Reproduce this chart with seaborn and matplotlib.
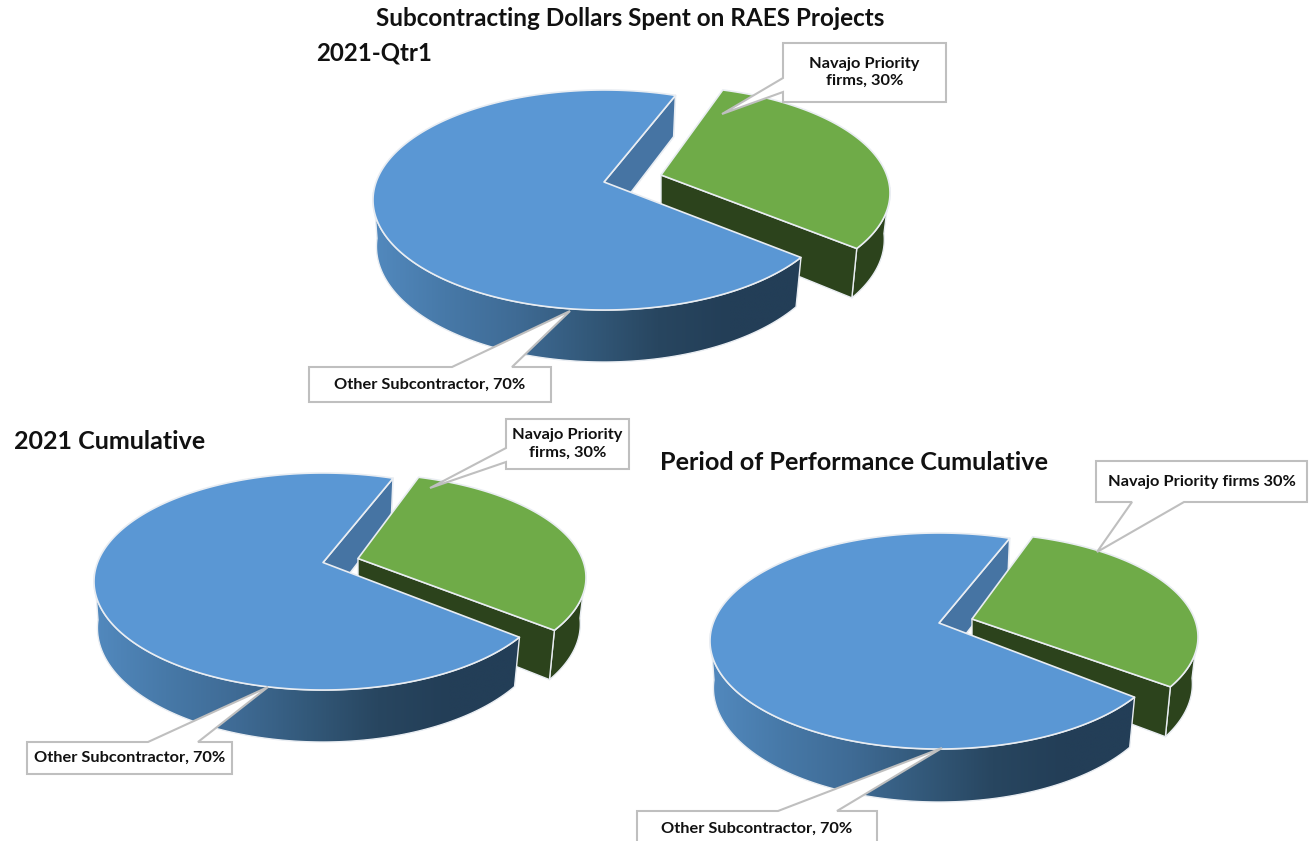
import numpy as np
import matplotlib
matplotlib.use("Agg")
import matplotlib.pyplot as plt
from matplotlib.patches import Polygon
import seaborn as sns

# ---------- data ----------
categories = ["Other Subcontractor", "Navajo Priority firms"]
shares_qtr1 = [70, 30]
shares_2021 = [70, 30]
shares_pop = [70, 30]
chart_title = "Subcontracting Dollars Spent on RAES Projects"
panel_titles = ["2021-Qtr1", "2021 Cumulative", "Period of Performance Cumulative"]
other_labels = ["Other Subcontractor, 70%", "Other Subcontractor, 70%", "Other Subcontractor, 70%"]
navajo_labels = ["Navajo Priority\nfirms, 30%", "Navajo Priority\nfirms, 30%", "Navajo Priority firms 30%"]

# ---------- style ----------
sns.set_theme(style="white")
plt.rcParams["font.family"] = ["Lato", "DejaVu Sans"]
BLUE, GREEN, NOTCH, DARKGREEN, EDGE, BOXEDGE = "#5a97d4", "#6fab48", "#4674a3", "#2c431c", "#e9edf2", "#bfbfbf"
side_cmap = sns.blend_palette(["#5289be", "#4779a8", "#3f6b95", "#33597a", "#284660", "#233e57", "#233e57"], as_cmap=True)

# ---------- layout (pixels) ----------
layout = [
    dict(blue=(604, 200, 231, 110), green=(661, 193, 229, 107), persp=18, dback=41, dfront=52, gwarp=1.025,
         title=(316, 53), tsize=17.3,
         other=dict(box=(309, 367, 551, 402), tip=(570, 311), side="top", base=(452, 512)),
         navajo=dict(box=(783, 43, 946, 102), tip=(722, 114), side="left", base=(78, 92))),
    dict(blue=(323, 581.5, 229, 108.5), green=(358, 577.5, 228, 104), persp=19, dback=41, dfront=52, gwarp=1.025,
         title=(14, 441), tsize=18,
         other=dict(box=(27, 742, 232, 774), tip=(268, 687), side="top", base=(148, 198)),
         navajo=dict(box=(506, 419, 629, 469), tip=(430, 488), side="left", base=(448, 462))),
    dict(blue=(939, 641, 229, 108), green=(972, 637, 226, 104), persp=18, dback=41, dfront=53, gwarp=1.005,
         title=(660, 462), tsize=18.2,
         other=dict(box=(637, 811, 877, 846), tip=(942, 748), side="top", base=(778, 837)),
         navajo=dict(box=(1096, 461, 1307, 502), tip=(1097, 552), side="bottom", base=(1132, 1184))),
]
START = 68.8
GREEN_START = 71.5
SHRINK_LEFT, SHRINK_RIGHT = 0.985, 0.975

fig = plt.figure(figsize=(13.09, 8.41), dpi=100, facecolor="white")
ax = fig.add_axes([0, 0, 1, 1])


def on_disc(geom, persp, theta):
    cx, cy, rx, ry = geom
    a = persp / ry
    t = np.radians(theta)
    den = 1 + a * np.sin(t)
    return np.column_stack([cx + rx * np.sqrt(1 - a * a) * np.cos(t) / den,
                            cy - ry * (np.sin(t) + a) / den])


def drop(points, geom, dback, dfront):
    cx, cy, rx, ry = geom
    frac = (points[:, 1] - (cy - ry)) / (2 * ry)
    shrink = np.where(points[:, 0] < cx, SHRINK_LEFT, SHRINK_RIGHT)
    return np.column_stack([cx + (points[:, 0] - cx) * shrink,
                            points[:, 1] + dback + (dfront - dback) * frac])


def poly(points, fc, lw=1.2, ec=EDGE, z=2):
    p = Polygon(points, closed=True, facecolor=fc, edgecolor=ec, linewidth=lw, zorder=z, joinstyle="round")
    ax.add_patch(p)
    return p


def callout(spec, text, size):
    x0, y0, x1, y1 = spec["box"]
    tip, (b0, b1) = spec["tip"], spec["base"]
    if spec["side"] == "left":
        pts = [(x0, y0), (x0, b0), tip, (x0, b1), (x0, y1), (x1, y1), (x1, y0)]
    elif spec["side"] == "top":
        pts = [(x0, y0), (b0, y0), tip, (b1, y0), (x1, y0), (x1, y1), (x0, y1)]
    else:
        pts = [(x0, y0), (x0, y1), (b0, y1), tip, (b1, y1), (x1, y1), (x1, y0)]
    ax.add_patch(Polygon(pts, closed=True, facecolor="white", edgecolor=BOXEDGE, linewidth=1.5,
                         zorder=5, joinstyle="miter"))
    ax.text((x0 + x1) / 2, (y0 + y1) / 2, text, ha="center", va="center", fontsize=size,
            fontweight="bold", color="#111111", zorder=6, linespacing=1.3)


def pie3d(shares, spec, other_text, navajo_text, title):
    geom_b, geom_g, persp = spec["blue"], spec["green"], spec["persp"]
    d0, d1 = spec["dback"], spec["dfront"]
    span_b = 360 * shares[0] / sum(shares)
    span_g = 360 * shares[1] / sum(shares) * spec["gwarp"]

    th_b = np.linspace(START, START + span_b, 300)
    th_g = np.linspace(GREEN_START, GREEN_START - span_g, 150)
    arc_b = on_disc(geom_b, persp, th_b)
    arc_g = on_disc(geom_g, persp, th_g)
    apex_b = np.array([[geom_b[0], geom_b[1] - persp]])
    apex_g = np.array([[geom_g[0], geom_g[1] - persp]])

    # inner face seen through the gap
    poly(np.vstack([apex_b, arc_b[:1], drop(arc_b[:1], geom_b, d0, d1), drop(apex_b, geom_b, d0, d1)]),
         NOTCH, z=2)
    # exploded slice: outer rim, cut face, top
    lim_g = -np.degrees(np.arcsin(persp / geom_g[3]))
    th_rim = np.linspace(GREEN_START - span_g, lim_g + 3, 60)
    rim = on_disc(geom_g, persp, th_rim)
    poly(np.vstack([rim, drop(rim, geom_g, d0, d1)[::-1]]), DARKGREEN, lw=1.0, z=3)
    end_g = arc_g[-1:]
    poly(np.vstack([apex_g, end_g, drop(end_g, geom_g, d0, d1), drop(apex_g, geom_g, d0, d1)]),
         DARKGREEN, lw=1.0, z=3)
    poly(np.vstack([apex_g, arc_g]), GREEN, z=3)

    # large slice: gradient outer wall, top
    lim_b = 180 + np.degrees(np.arcsin(persp / geom_b[3])) - 4
    th_wall = np.linspace(lim_b, START + span_b, 200)
    wall = on_disc(geom_b, persp, th_wall)
    wall_poly = np.vstack([wall, drop(wall, geom_b, d0, d1)[::-1]])
    clip = poly(wall_poly, "none", lw=1.0, ec=EDGE, z=4.1)
    grad = np.linspace(0, 1, 256)[None, :]
    xl, xr = wall_poly[:, 0].min(), wall_poly[:, 0].max()
    im = ax.imshow(grad, cmap=side_cmap, extent=(xl, xr, wall_poly[:, 1].max(), wall_poly[:, 1].min()),
                   aspect="auto", zorder=4, interpolation="bilinear")
    im.set_clip_path(clip)
    poly(np.vstack([apex_b, arc_b]), BLUE, z=4.2)

    callout(spec["other"], other_text, 11.8)
    callout(spec["navajo"], navajo_text, 11.8)
    ax.text(spec["title"][0], spec["title"][1], title, ha="left", va="center", fontsize=spec["tsize"],
            fontweight="bold", color="#111111", zorder=6)


for shares, spec, o, n, t in zip([shares_qtr1, shares_2021, shares_pop], layout, other_labels, navajo_labels, panel_titles):
    pie3d(shares, spec, o, n, t)

ax.text(630, 18, chart_title, ha="center", va="center", fontsize=17.5, fontweight="bold", color="#111111", zorder=6)
ax.set_xlim(0, 1309)
ax.set_ylim(841, 0)
ax.axis("off")
fig.savefig("out.png", dpi=100, facecolor="white")
